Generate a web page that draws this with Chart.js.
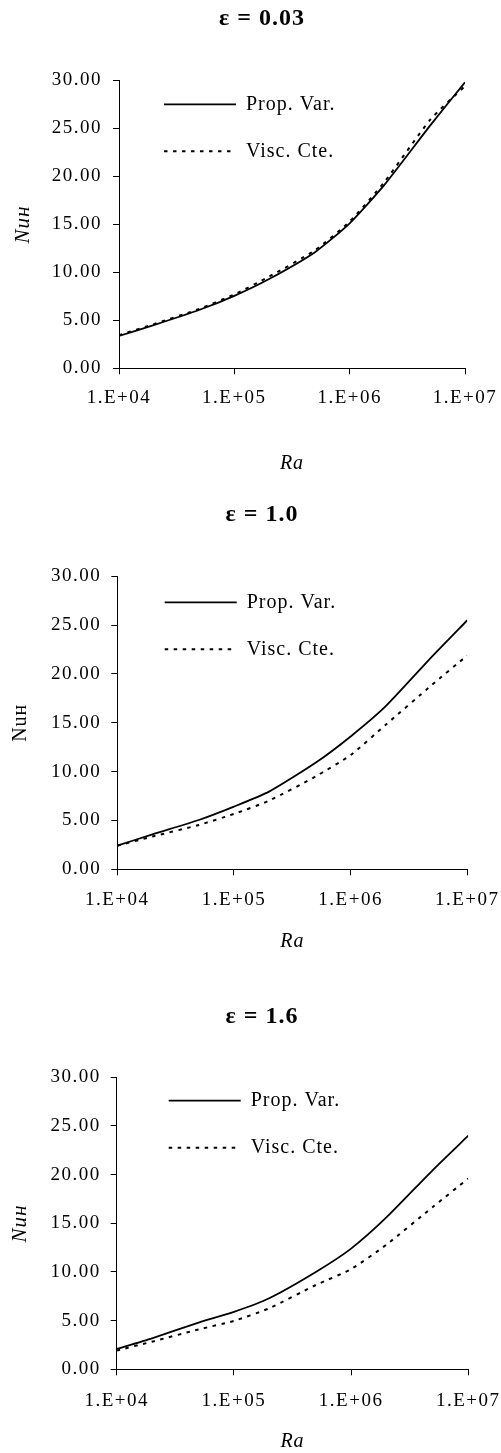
<!DOCTYPE html>
<html><head><meta charset="utf-8">
<script src="https://cdn.jsdelivr.net/npm/chart.js@4.4.0/dist/chart.umd.min.js"></script>
<style>
html,body{margin:0;padding:0;background:#fff;}
.box{position:absolute;left:0;width:501px;}
</style></head><body>
<div class="box" style="top:0;height:480px"><canvas id="c1"></canvas></div>
<div class="box" style="top:480px;height:480px"><canvas id="c2"></canvas></div>
<div class="box" style="top:960px;height:493px"><canvas id="c3"></canvas></div>
<script>
// ---- data ----
const raValues = [1e4, 2e4, 5e4, 1e5, 2e5, 5e5, 1e6, 2e6, 5e6, 1e7];
const seriesNames = ['Prop. Var.', 'Visc. Cte.'];
const chartTitles = ['ε = 0.03', 'ε = 1.0', 'ε = 1.6'];
const propVar_003 = [3.37, 4.5, 6.1, 7.55, 9.3, 12.1, 15.1, 19.1, 25.3, 29.8];
const viscCte_003 = [3.45, 4.6, 6.2, 7.7, 9.55, 12.3, 15.3, 19.4, 25.9, 29.4];
const propVar_10 = [2.42, 3.58, 5.05, 6.42, 7.95, 10.9, 13.6, 16.7, 21.8, 25.5];
const viscCte_10 = [2.42, 3.35, 4.54, 5.67, 7.03, 9.5, 11.7, 14.8, 18.9, 21.9];
const propVar_16 = [2.09, 3.18, 4.8, 5.9, 7.3, 10.0, 12.4, 15.6, 20.5, 24.0];
const viscCte_16 = [1.92, 2.84, 4.1, 4.97, 6.27, 8.66, 10.3, 12.8, 16.7, 19.6];
const xTickValues = [1e4, 1e5, 1e6, 1e7];
const xTickLabels = ['1.E+04', '1.E+05', '1.E+06', '1.E+07'];
const yMin = 0, yMax = 30, yStep = 5;
const xAxisTitle = 'Ra';
const yAxisTitle = 'Nuʜ';

// ---- layout (pixel targets per panel) ----
const layouts = [
  {left:119, right:465, top:80.3, bottom:368.3, H:480, titleY:19, titleX:262, tickPadX:12.5, tickPadY:11, yTitleX:23, raY:464, legendX:45, legendY:24, italicY:true},
  {left:117.3, right:467.3, top:96.3, bottom:389.3, H:480, titleY:35, titleX:262, tickPadX:13.5, tickPadY:10, yTitleX:21, raY:461.7, legendX:47.4, legendY:26, italicY:false},
  {left:116.7, right:468.3, top:117.3, bottom:409.3, H:493, titleY:56.7, titleX:262, tickPadX:14, tickPadY:10, yTitleX:20, raY:481.7, legendX:52, legendY:23.4, italicY:true}
];

const FONT = 'Liberation Serif, Times New Roman, serif';
const LEG_FONT = 20, LEG_PAD = 27;

const refPlugin = {
  id: 'refLayout',
  afterLayout(chart, args, opts) {
    const tb = chart.titleBlock;
    if (tb) { const w = tb.right - tb.left; tb.left = opts.titleX - w / 2; tb.right = opts.titleX + w / 2; }
    const lg = chart.legend;
    if (lg) {
      const ca = chart.chartArea;
      lg.left = ca.left + opts.legendX - LEG_PAD;
      lg.right = ca.right;
      lg.top = ca.top + opts.legendY - LEG_PAD - LEG_FONT / 2;
      lg.bottom = ca.bottom;
      lg.width = lg.right - lg.left;
      lg.height = lg.bottom - lg.top;
    }
  },
  beforeDraw(chart) { chart.ctx.letterSpacing = '1px'; },
  afterDatasetsDraw(chart) { chart.ctx.letterSpacing = '1.5px'; },
  afterDraw(chart) { chart.ctx.letterSpacing = '0px'; }
};

function makeChart(id, title, prop, visc, L) {
  new Chart(document.getElementById(id), {
    type: 'line',
    data: {
      datasets: [
        {label: seriesNames[0], data: raValues.map((x, i) => ({x: x, y: prop[i]})),
         borderColor: '#000', borderWidth: 1.8, pointRadius: 0, tension: 0.2, fill: false},
        {label: seriesNames[1], data: raValues.map((x, i) => ({x: x, y: visc[i]})),
         borderColor: '#000', borderWidth: 2, borderDash: [3.5, 5.5], pointRadius: 0, tension: 0.2, fill: false}
      ]
    },
    options: {
      responsive: true, maintainAspectRatio: false, animation: false, devicePixelRatio: 1,
      layout: {padding: {left: 0, top: 0, right: 501 - L.right, bottom: L.H - (L.raY + 10)}},
      plugins: {
        title: {display: true, text: title, color: '#000',
          font: {family: FONT, size: 24, weight: 'bold', lineHeight: 1.2},
          padding: {top: L.titleY - 14.4, bottom: L.top - L.titleY - 14.4}},
        legend: {position: 'chartArea', align: 'start',
          labels: {usePointStyle: true, pointStyle: 'line', pointStyleWidth: 72, padding: LEG_PAD, color: '#000',
            font: {family: FONT, size: LEG_FONT},
            generateLabels(chart) {
              return chart.data.datasets.map((ds, i) => ({
                text: ds.label, fillStyle: 'rgba(0,0,0,0)', strokeStyle: ds.borderColor,
                lineWidth: ds.borderWidth, lineDash: ds.borderDash || [], lineCap: 'butt',
                pointStyle: 'line', hidden: false, datasetIndex: i, fontColor: '#000'
              }));
            }}},
        tooltip: {enabled: false},
        refLayout: {titleX: L.titleX, legendX: L.legendX, legendY: L.legendY}
      },
      scales: {
        x: {type: 'logarithmic', min: xTickValues[0], max: xTickValues[xTickValues.length - 1],
          afterBuildTicks: s => { s.ticks = xTickValues.map(v => ({value: v})); },
          afterFit: s => { s.height = L.raY + 10 - L.bottom; s.paddingLeft = 0; s.paddingRight = 0; },
          ticks: {autoSkip: false, maxRotation: 0, minRotation: 0, padding: L.tickPadX, color: '#000', z: 1,
            font: {family: FONT, size: 19, lineHeight: 1.2},
            callback: (v, i) => xTickLabels[i]},
          grid: {drawOnChartArea: false, drawTicks: true, tickLength: 6, color: '#000', lineWidth: 1},
          border: {color: '#000', width: 1},
          title: {display: true, text: xAxisTitle, color: '#000', padding: {top: 0, bottom: 0},
            font: {family: FONT, size: 20, style: 'italic', lineHeight: 1}}
        },
        y: {type: 'linear', min: yMin, max: yMax,
          afterFit: s => { s.width = L.left; s.paddingTop = 0; s.paddingBottom = 0; },
          ticks: {stepSize: yStep, padding: L.tickPadY, color: '#000', z: 1,
            font: {family: FONT, size: 19, lineHeight: 1.2},
            callback: v => Number(v).toFixed(2)},
          grid: {drawOnChartArea: false, drawTicks: true, tickLength: 6, color: '#000', lineWidth: 1},
          border: {color: '#000', width: 1},
          title: {display: true, text: yAxisTitle, color: '#000', padding: {top: L.yTitleX - 10.5, bottom: 0},
            font: {family: FONT, size: L.italicY ? 21 : 20, style: L.italicY ? 'italic' : 'normal', lineHeight: 1}}
        }
      }
    },
    plugins: [refPlugin]
  });
}

makeChart('c1', chartTitles[0], propVar_003, viscCte_003, layouts[0]);
makeChart('c2', chartTitles[1], propVar_10, viscCte_10, layouts[1]);
makeChart('c3', chartTitles[2], propVar_16, viscCte_16, layouts[2]);
</script>
</body></html>
